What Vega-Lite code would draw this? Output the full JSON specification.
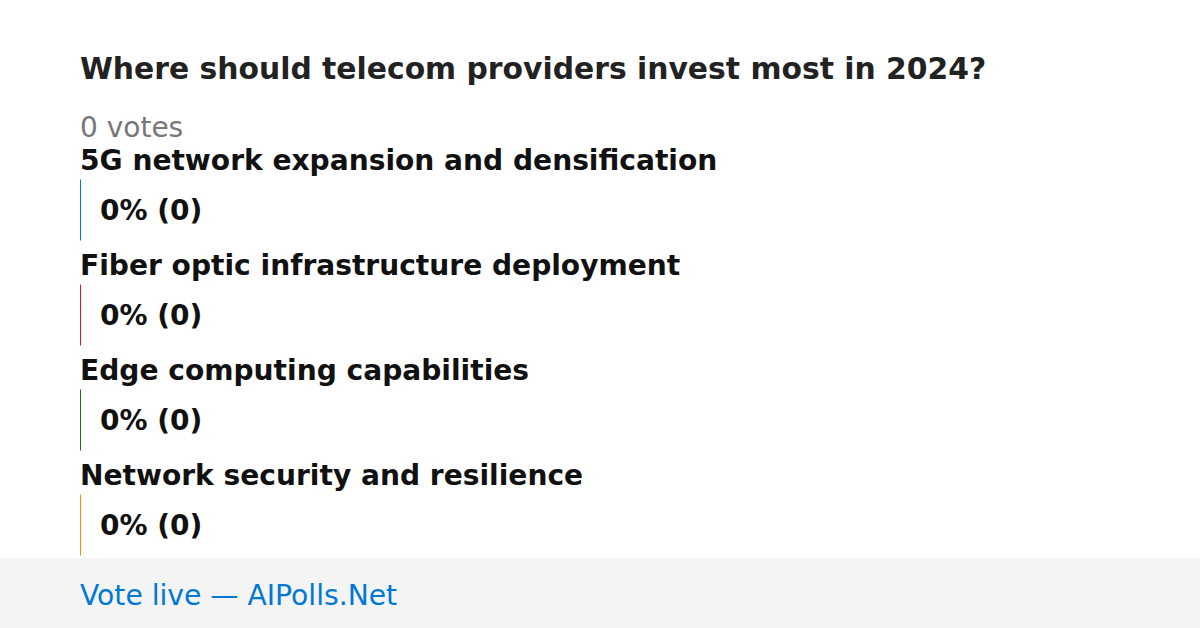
{
  "$schema": "https://vega.github.io/schema/vega-lite/v6.json",
  "background": "#ffffff",
  "padding": {"left": 0, "right": 0, "top": 55, "bottom": 0},
  "spacing": 0,
  "config": {
    "view": {"stroke": null},
    "font": "DejaVu Sans",
    "concat": {"spacing": 0}
  },
  "datasets": {
    "poll": [
      {"option": "5G network expansion and densification", "votes": 0, "pct": 0, "display": "0% (0)"},
      {"option": "Fiber optic infrastructure deployment", "votes": 0, "pct": 0, "display": "0% (0)"},
      {"option": "Edge computing capabilities", "votes": 0, "pct": 0, "display": "0% (0)"},
      {"option": "Network security and resilience", "votes": 0, "pct": 0, "display": "0% (0)"}
    ],
    "footer": [
      {"link": "Vote live — AIPolls.Net"}
    ]
  },
  "vconcat": [
    {
      "title": {
        "text": "Where should telecom providers invest most in 2024?",
        "subtitle": "0 votes",
        "anchor": "start",
        "frame": "group",
        "dx": 80,
        "offset": 0,
        "font": "DejaVu Sans",
        "fontSize": 29.8,
        "fontWeight": "bold",
        "color": "#222222",
        "subtitleFont": "DejaVu Sans",
        "subtitleFontSize": 28,
        "subtitleColor": "#777777",
        "subtitlePadding": 30
      },
      "width": 1200,
      "height": 415,
      "data": {"name": "poll"},
      "encoding": {
        "y": {
          "field": "option",
          "type": "nominal",
          "sort": null,
          "axis": null,
          "scale": {"range": [14.5, 434.5], "paddingInner": 0, "paddingOuter": 0}
        }
      },
      "layer": [
        {
          "mark": {"type": "tick", "thickness": 1, "size": 61, "orient": "vertical", "opacity": 1},
          "encoding": {
            "x": {"field": "pct", "type": "quantitative", "axis": null, "scale": {"domain": [0, 100], "range": [80.5, 1120]}},
            "color": {
              "field": "option",
              "type": "nominal",
              "legend": null,
              "scale": {
                "domain": ["5G network expansion and densification", "Fiber optic infrastructure deployment", "Edge computing capabilities", "Network security and resilience"],
                "range": ["#0078d4", "#e81123", "#107c10", "#ff8c00"]
              }
            }
          }
        },
        {
          "mark": {"type": "text", "align": "left", "baseline": "alphabetic", "dx": -0.5, "dy": -40, "fontSize": 28.1, "fontWeight": "bold", "color": "#111111", "font": "DejaVu Sans"},
          "encoding": {
            "x": {"datum": 0, "type": "quantitative"},
            "text": {"field": "option"}
          }
        },
        {
          "mark": {"type": "text", "align": "left", "baseline": "alphabetic", "dx": 19.5, "dy": 10, "fontSize": 28, "fontWeight": "bold", "color": "#111111", "font": "DejaVu Sans"},
          "encoding": {
            "x": {"field": "pct", "type": "quantitative"},
            "text": {"field": "display"}
          }
        }
      ]
    },
    {
      "width": 1200,
      "height": 70,
      "view": {"fill": "#f4f4f4", "stroke": null},
      "data": {"name": "footer"},
      "mark": {"type": "text", "align": "left", "baseline": "alphabetic", "dy": 12, "fontSize": 28.2, "color": "#0078d4", "font": "DejaVu Sans"},
      "encoding": {
        "x": {"datum": 0, "type": "quantitative", "axis": null, "scale": {"domain": [0, 100], "range": [80, 1120]}},
        "text": {"field": "link"}
      }
    }
  ]
}
